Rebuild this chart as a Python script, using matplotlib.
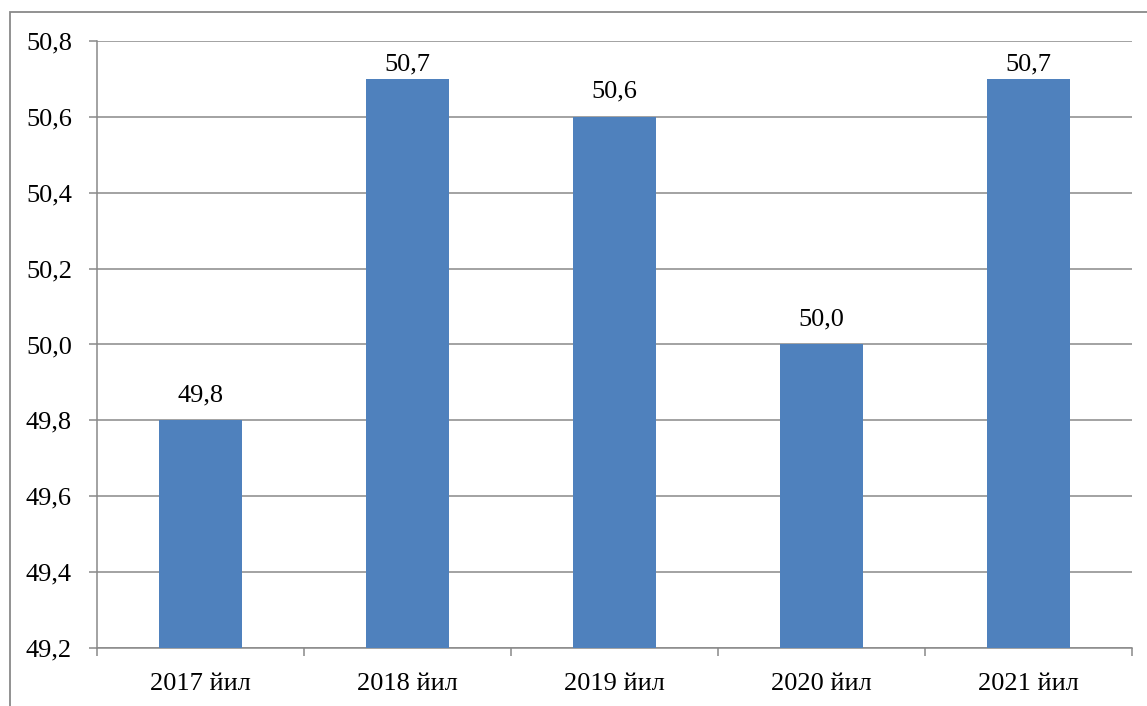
import matplotlib
matplotlib.use("Agg")
import matplotlib.pyplot as plt
from matplotlib.patches import Rectangle
import numpy as np

categories = ["2017 йил", "2018 йил", "2019 йил", "2020 йил", "2021 йил"]
values = [49.8, 50.7, 50.6, 50.0, 50.7]
labels = ["49,8", "50,7", "50,6", "50,0", "50,7"]
yticks = [49.2, 49.4, 49.6, 49.8, 50.0, 50.2, 50.4, 50.6, 50.8]

plt.rcParams['font.family'] = ['Liberation Serif', 'DejaVu Serif']
plt.rcParams['font.size'] = 19

W, H = 1147, 706
fig = plt.figure(figsize=(W / 100, H / 100), dpi=100)
ax = fig.add_axes([97 / W, 1 - 648 / H, (1132 - 97) / W, (648 - 41) / H])

grid_c = "#898989"
x = np.arange(len(categories))
ax.bar(x, [v - 49.2 for v in values], bottom=49.2, width=0.4, color="#4F81BD", zorder=3)
ax.set_xlim(-0.5, len(categories) - 0.5)
ax.set_ylim(49.2, 50.8)
ax.set_yticks(yticks)
ax.set_yticklabels([f"{t:.1f}".replace(".", ",") for t in yticks])
ax.yaxis.grid(True, color=grid_c, linewidth=1.1, zorder=0)
ax.set_axisbelow(True)

ax.set_xticks(x)
ax.set_xticklabels(categories)
ax.set_xticks(np.arange(-0.5, len(categories)), minor=True)
ax.tick_params(axis='x', which='major', length=0, pad=18)
ax.tick_params(axis='x', which='minor', length=6, width=1.1, color=grid_c, direction='out')
ax.tick_params(axis='y', length=6, width=1.1, color=grid_c, direction='out', pad=12)

for s in ['top', 'right']:
    ax.spines[s].set_visible(False)
for s in ['left', 'bottom']:
    ax.spines[s].set_color(grid_c)
    ax.spines[s].set_linewidth(1.1)

for xi, v, lab in zip(x, values, labels):
    ypos = min(v + 0.066, 50.737)
    ax.text(xi, ypos, lab, ha='center', va='center', fontsize=19, zorder=4)

fig.patches.append(Rectangle((10 / W, -0.05), 1.2, 1 - 12 / H + 0.05,
                             transform=fig.transFigure, fill=False,
                             edgecolor=grid_c, linewidth=1.3))

fig.savefig("out.png", dpi=100)
